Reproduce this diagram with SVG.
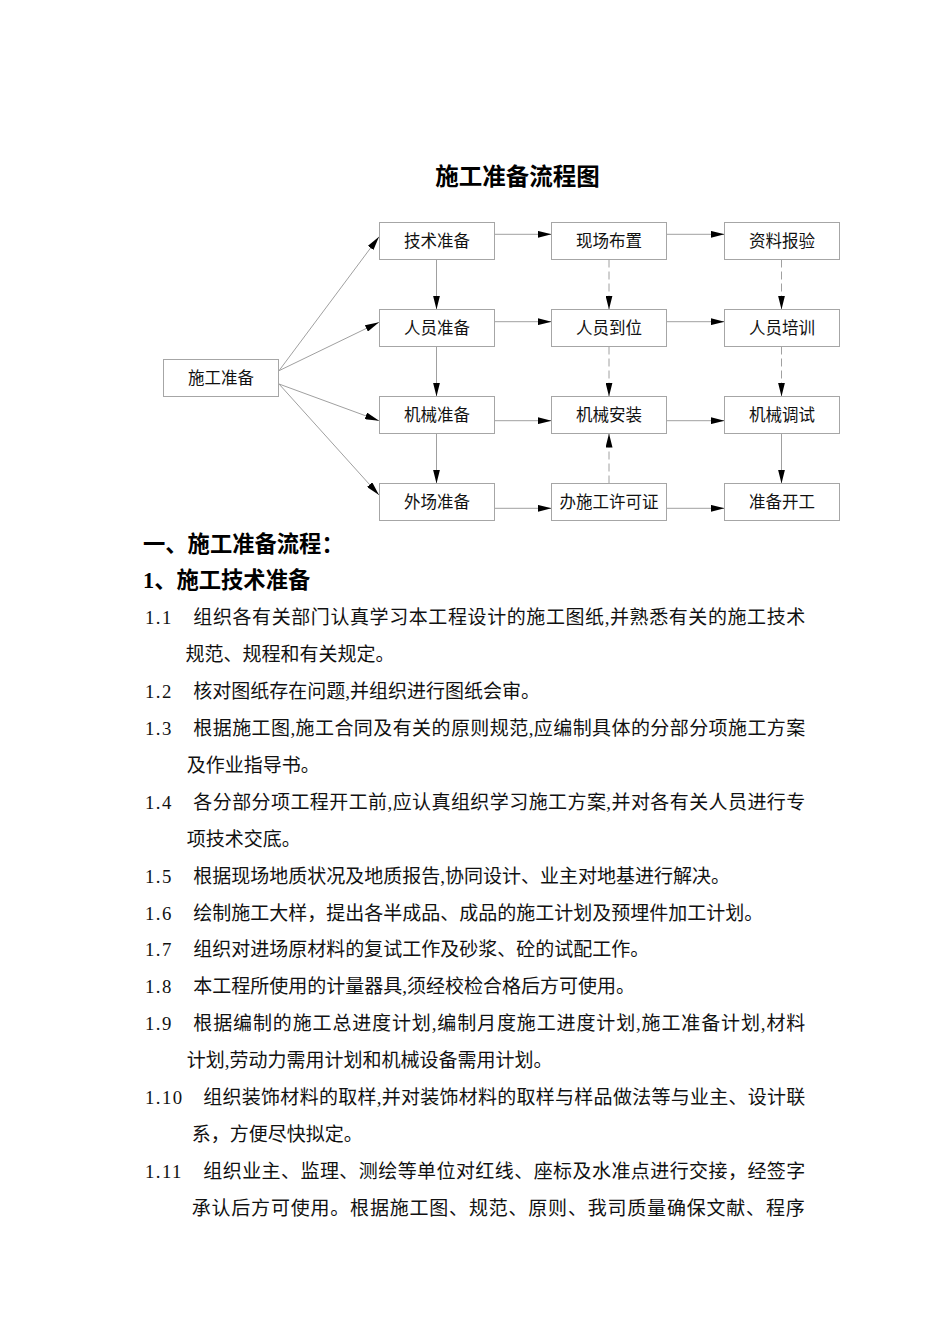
<svg xmlns="http://www.w3.org/2000/svg" width="950" height="1344" viewBox="0 0 950 1344">
<style>
.box{fill:#fff;stroke:#a6a6a6;stroke-width:1}
.bt{font-family:"Noto Sans CJK SC","Noto Sans",sans-serif;font-size:16.5px;fill:#111;text-anchor:middle}
.ln{fill:none;stroke:#a0a0a0;stroke-width:1}
.dash{stroke-dasharray:8,4}
.title{font-family:"Noto Sans CJK SC",sans-serif;font-size:23.5px;font-weight:bold;fill:#000;text-anchor:middle}
.h{font-family:"Liberation Serif","Noto Sans CJK SC",serif;font-size:22.3px;font-weight:bold;fill:#000}
.num{font-family:"Liberation Serif","Noto Sans CJK SC",serif;font-size:18.8px;fill:#111;letter-spacing:1.4px}
.tx{font-family:"Liberation Serif","Noto Sans CJK SC",serif;font-size:19px;fill:#111}
</style>
<defs>
<marker id="ah" markerWidth="14" markerHeight="7" refX="14" refY="3.5" orient="auto" markerUnits="userSpaceOnUse"><path d="M0,0 L14,3.5 L0,7 z" fill="#000"/></marker>
</defs>
<rect width="950" height="1344" fill="#fff"/>
<text class="title" x="517.5" y="185">施工准备流程图</text>

<g id="connectors">
<line class="ln" x1="279" y1="370.7" x2="379" y2="236.7" marker-end="url(#ah)"/>
<line class="ln" x1="279" y1="370.7" x2="379" y2="322.3" marker-end="url(#ah)"/>
<line class="ln" x1="279" y1="384" x2="379" y2="420.7" marker-end="url(#ah)"/>
<line class="ln" x1="279" y1="384" x2="379" y2="495" marker-end="url(#ah)"/>
<line class="ln" x1="494.5" y1="234.3" x2="551.5" y2="234.3" marker-end="url(#ah)"/>
<line class="ln" x1="666.5" y1="234.3" x2="724.5" y2="234.3" marker-end="url(#ah)"/>
<line class="ln" x1="494.5" y1="321.7" x2="551.5" y2="321.7" marker-end="url(#ah)"/>
<line class="ln" x1="666.5" y1="321.7" x2="724.5" y2="321.7" marker-end="url(#ah)"/>
<line class="ln" x1="494.5" y1="420.7" x2="551.5" y2="420.7" marker-end="url(#ah)"/>
<line class="ln" x1="666.5" y1="420.7" x2="724.5" y2="420.7" marker-end="url(#ah)"/>
<line class="ln" x1="494.5" y1="508.3" x2="551.5" y2="508.3" marker-end="url(#ah)"/>
<line class="ln" x1="666.5" y1="508.3" x2="724.5" y2="508.3" marker-end="url(#ah)"/>
<line class="ln" x1="436.5" y1="259.5" x2="436.5" y2="309.5" marker-end="url(#ah)"/>
<line class="ln" x1="436.5" y1="346.5" x2="436.5" y2="396.5" marker-end="url(#ah)"/>
<line class="ln" x1="436.5" y1="433.5" x2="436.5" y2="483.5" marker-end="url(#ah)"/>
<line class="ln dash" x1="609" y1="259.5" x2="609" y2="309.5" marker-end="url(#ah)"/>
<line class="ln dash" x1="609" y1="346.5" x2="609" y2="396.5" marker-end="url(#ah)"/>
<line class="ln dash" x1="609" y1="483.5" x2="609" y2="433.5" marker-end="url(#ah)"/>
<line class="ln dash" x1="781.5" y1="259.5" x2="781.5" y2="309.5" marker-end="url(#ah)"/>
<line class="ln dash" x1="781.5" y1="346.5" x2="781.5" y2="396.5" marker-end="url(#ah)"/>
<line class="ln" x1="781.5" y1="433.5" x2="781.5" y2="483.5" marker-end="url(#ah)"/>
</g>

<g id="n-start"><rect class="box" x="163.5" y="359.5" width="115" height="37"/><text class="bt" x="221" y="384">施工准备</text></g>
<g id="n-tech"><rect class="box" x="379.5" y="222.5" width="115" height="37"/><text class="bt" x="437" y="247">技术准备</text></g>
<g id="n-staff"><rect class="box" x="379.5" y="309.5" width="115" height="37"/><text class="bt" x="437" y="334">人员准备</text></g>
<g id="n-mach"><rect class="box" x="379.5" y="396.5" width="115" height="37"/><text class="bt" x="437" y="421">机械准备</text></g>
<g id="n-site"><rect class="box" x="379.5" y="483.5" width="115" height="37"/><text class="bt" x="437" y="508">外场准备</text></g>
<g id="n-layout"><rect class="box" x="551.5" y="222.5" width="115" height="37"/><text class="bt" x="609" y="247">现场布置</text></g>
<g id="n-arrive"><rect class="box" x="551.5" y="309.5" width="115" height="37"/><text class="bt" x="609" y="334">人员到位</text></g>
<g id="n-install"><rect class="box" x="551.5" y="396.5" width="115" height="37"/><text class="bt" x="609" y="421">机械安装</text></g>
<g id="n-permit"><rect class="box" x="551.5" y="483.5" width="115" height="37"/><text class="bt" x="609" y="508">办施工许可证</text></g>
<g id="n-docs"><rect class="box" x="724.5" y="222.5" width="115" height="37"/><text class="bt" x="782" y="247">资料报验</text></g>
<g id="n-train"><rect class="box" x="724.5" y="309.5" width="115" height="37"/><text class="bt" x="782" y="334">人员培训</text></g>
<g id="n-debug"><rect class="box" x="724.5" y="396.5" width="115" height="37"/><text class="bt" x="782" y="421">机械调试</text></g>
<g id="n-ready"><rect class="box" x="724.5" y="483.5" width="115" height="37"/><text class="bt" x="782" y="508">准备开工</text></g>

<g id="body">
<text class="h" x="143" y="552">一、施工准备流程：</text>
<text class="h" x="143" y="588">1、施工技术准备</text>

<text class="num" x="145" y="624">1.1</text>
<text class="tx" x="193.3" y="624" textLength="612" lengthAdjust="spacing">组织各有关部门认真学习本工程设计的施工图纸,并熟悉有关的施工技术</text>
<text class="tx" x="185.5" y="661">规范、规程和有关规定。</text>
<text class="num" x="145" y="698">1.2</text>
<text class="tx" x="193.3" y="698">核对图纸存在问题,并组织进行图纸会审。</text>
<text class="num" x="145" y="735">1.3</text>
<text class="tx" x="193.3" y="735" textLength="612" lengthAdjust="spacing">根据施工图,施工合同及有关的原则规范,应编制具体的分部分项施工方案</text>
<text class="tx" x="186.7" y="772">及作业指导书。</text>
<text class="num" x="145" y="809">1.4</text>
<text class="tx" x="193.3" y="809" textLength="612" lengthAdjust="spacing">各分部分项工程开工前,应认真组织学习施工方案,并对各有关人员进行专</text>
<text class="tx" x="186.7" y="846">项技术交底。</text>
<text class="num" x="145" y="883">1.5</text>
<text class="tx" x="193.3" y="883">根据现场地质状况及地质报告,协同设计、业主对地基进行解决。</text>
<text class="num" x="145" y="920">1.6</text>
<text class="tx" x="193.3" y="920">绘制施工大样，提出各半成品、成品的施工计划及预埋件加工计划。</text>
<text class="num" x="145" y="956">1.7</text>
<text class="tx" x="193.3" y="956">组织对进场原材料的复试工作及砂浆、砼的试配工作。</text>
<text class="num" x="145" y="993">1.8</text>
<text class="tx" x="193.3" y="993">本工程所使用的计量器具,须经校检合格后方可使用。</text>
<text class="num" x="145" y="1030">1.9</text>
<text class="tx" x="193.3" y="1030" textLength="612" lengthAdjust="spacing">根据编制的施工总进度计划,编制月度施工进度计划,施工准备计划,材料</text>
<text class="tx" x="186.7" y="1067">计划,劳动力需用计划和机械设备需用计划。</text>
<text class="num" x="145" y="1104">1.10</text>
<text class="tx" x="203.3" y="1104" textLength="602" lengthAdjust="spacing">组织装饰材料的取样,并对装饰材料的取样与样品做法等与业主、设计联</text>
<text class="tx" x="191.7" y="1141">系，方便尽快拟定。</text>
<text class="num" x="145" y="1178">1.11</text>
<text class="tx" x="203.3" y="1178" textLength="602" lengthAdjust="spacing">组织业主、监理、测绘等单位对红线、座标及水准点进行交接，经签字</text>
<text class="tx" x="191.7" y="1215" textLength="613" lengthAdjust="spacing">承认后方可使用。根据施工图、规范、原则、我司质量确保文献、程序</text>
</g>
</svg>
